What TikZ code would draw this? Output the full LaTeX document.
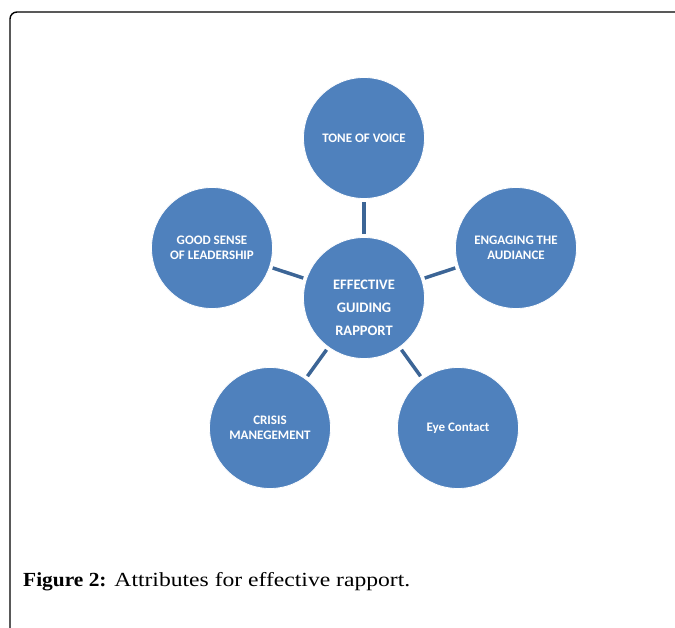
\documentclass[tikz,border=0pt]{standalone}
\usepackage{fontspec}
\newfontfamily\calib{Carlito}
\newfontfamily\capfont[FakeStretch=1.18]{Liberation Serif}
\newfontfamily\capbold[FakeStretch=1.07]{Liberation Serif Bold}
\usepackage{xcolor}
\usepackage{tikz}
\usetikzlibrary{arrows}

\definecolor{bubble}{HTML}{4F81BD}
\definecolor{spoke}{HTML}{3C6596}

\begin{document}
\begin{tikzpicture}[x=1pt,y=-1pt,
	bub/.style={circle,fill=bubble,draw=white,line width=0.8pt,minimum size=121pt,inner sep=0pt,
		text=white,align=center,font=\calib\bfseries\fontsize{13}{14.5}\selectfont},
	ctext/.style={text=white,align=center,font=\calib\bfseries\fontsize{14.5}{23}\selectfont}]
		\useasboundingbox (0,0) rectangle (675,628);
		\draw[line width=1.4pt,rounded corners=7pt] (10,640) -- (10,12) -- (690,12);
		%
		\node[bub] (rap) at (364,298) {};
		\node[ctext] (rapT) at ([yshift=-10pt]rap.center) {EFFECTIVE\\GUIDING\\RAPPORT};
		\node[bub] (tone) at (364,138) {TONE OF VOICE};
		\node[bub] (eng) at (516,248) {ENGAGING THE\\AUDIANCE};
		\node[bub] (lead) at (212,248) {GOOD SENSE\\OF LEADERSHIP};
		\node[bub] (cris) at (270,428) {CRISIS\\MANEGEMENT};
		\node[bub] (eye) at (458,428) {Eye Contact};
		%
		\path[-,draw=spoke,line width=3.5pt,shorten <=3pt,shorten >=3pt]
		(rap) edge (tone)
		(rap) edge (eng)
		(rap) edge (lead)
		(rap) edge (cris)
		(rap) edge (eye);
		%
		\node[anchor=base west,font=\fontsize{20}{22}\selectfont,inner sep=0pt] (cap) at (23,586)
		{{\capbold Figure 2:}\capfont{} Attributes for effective rapport.};
	\end{tikzpicture}
\end{document}
